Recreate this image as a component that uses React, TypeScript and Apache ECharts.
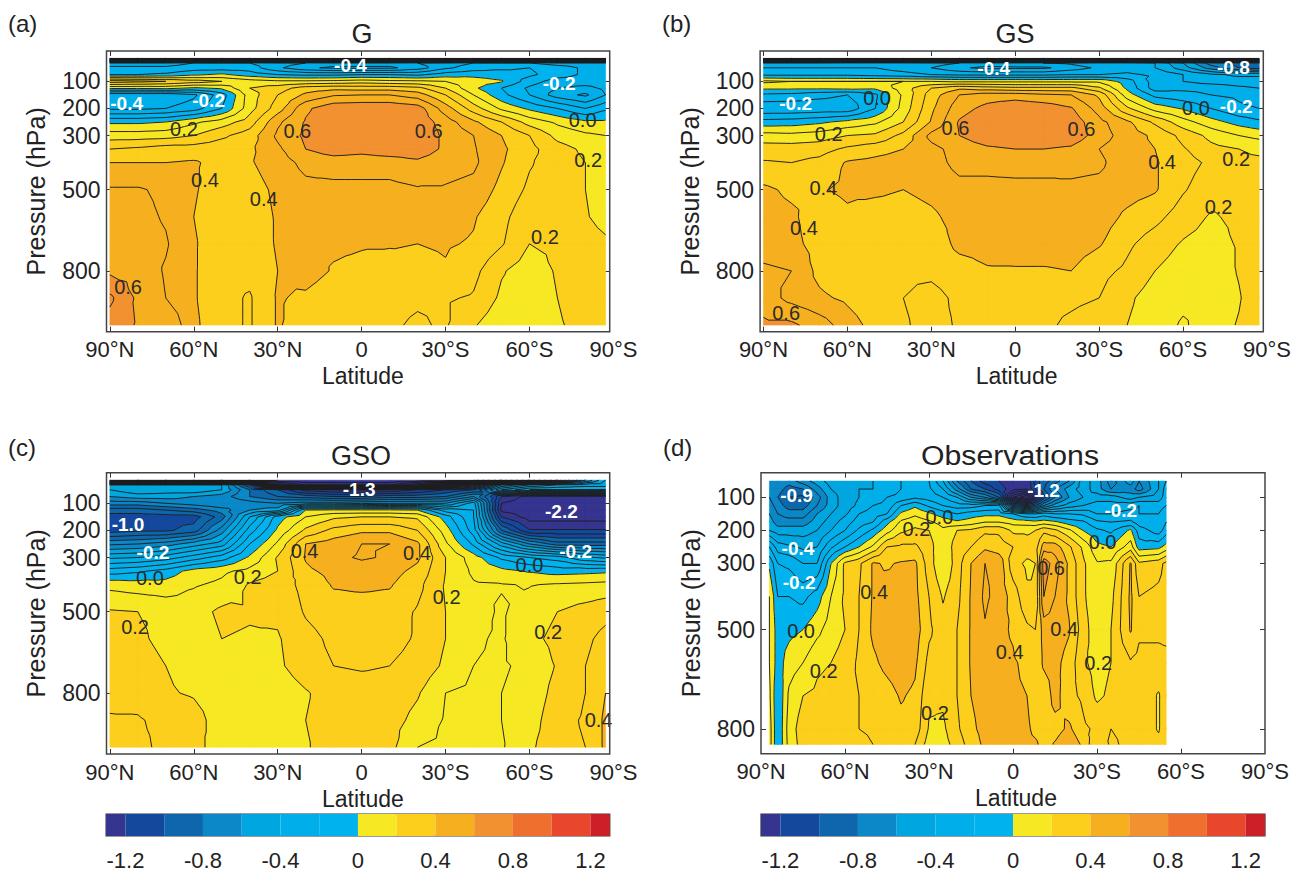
import React, { useEffect, useRef } from "react";
import * as echarts from "echarts";

const FONT = "'Liberation Sans', Arial, sans-serif";
const INK = "#222222";

const X_TICKS = [90, 60, 30, 0, -30, -60, -90];
const X_TICK_LABELS = ["90°N", "60°N", "30°N", "0", "30°S", "60°S", "90°S"];
const Y_TICKS = [100, 200, 300, 500, 800];
const CBAR_TICKS = [-1.2, -0.8, -0.4, 0, 0.4, 0.8, 1.2];

const BAND_EDGES = [-99, -1.2, -1, -0.8, -0.6, -0.4, -0.2, 0, 0.2, 0.4, 0.6, 0.8, 1, 1.2, 99];
const CBAR_EDGES = [-1.3, -1.2, -1, -0.8, -0.6, -0.4, -0.2, 0, 0.2, 0.4, 0.6, 0.8, 1, 1.2, 1.3];
const BAND_COLORS = ["#35348f", "#14489c", "#0e67ac", "#0a88c8", "#00a6df", "#00aeea", "#00b3ee", "#f7e824", "#fccf1d", "#f6b01f", "#f29130", "#ef6f2e", "#e8472b", "#cb2027"];
const LINE_LEVELS = [-3, -2.9, -2.8, -2.7, -2.6, -2.5, -2.4, -2.3, -2.2, -2.1, -2, -1.9, -1.8, -1.7, -1.6, -1.5, -1.4, -1.3, -1.2, -1.1, -1, -0.9, -0.8, -0.7, -0.6, -0.5, -0.4, -0.3, -0.2, -0.1, 0, 0.1, 0.2, 0.3, 0.4, 0.5, 0.6, 0.7, 0.8, 0.9];

const LATS = [90, 80, 70, 60, 50, 40, 30, 20, 10, 0, -10, -20, -30, -40, -50, -60, -70, -80, -87.2];
const LEVELS = [15, 32, 50, 75, 100, 125, 150, 200, 250, 300, 350, 400, 500, 600, 700, 800, 900, 1000];

const G_VALUES = [
  [-3, -3, -3, -3, -3, -3, -3, -3, -3, -3, -3, -3, -3, -3, -3, -3, -3, -3, -3],
  [-.25, -.25, -.25, -.2, -.2, -.2, -.25, -.3, -.35, -.35, -.35, -.3, -.25, -.2, -.2, -.2, -.25, -.25, -.25],
  [-.18, -.18, -.18, -.15, -.15, -.15, -.28, -.38, -.42, -.42, -.42, -.35, -.22, -.15, -.12, -.1, -.15, -.22, -.25],
  [-.1, -.1, -.08, -.02, .02, -.05, -.1, -.12, -.12, -.1, -.1, -.12, -.05, -.03, -.05, -.08, -.15, -.22, -.22],
  [.35, .33, .3, .25, .2, .15, .12, .12, .13, .15, .13, .12, .1, .05, .01, -.15, -.25, -.25, -.25],
  [.02, .02, .03, -.02, .02, .2, .25, .35, .37, .36, .36, .33, .2, .02, -.1, -.22, -.3, -.33, -.28],
  [-.38, -.38, -.38, -.32, -.15, .15, .3, .42, .49, .5, .5, .45, .3, .1, -.07, -.2, -.35, -.42, -.3],
  [-.32, -.32, -.3, -.25, -.1, .16, .35, .58, .67, .68, .68, .65, .45, .25, .08, -.02, -.1, -.2, -.12],
  [-.02, -.02, 0, .08, .15, .25, .48, .61, .68, .68, .68, .67, .55, .42, .3, .16, .08, .02, .02],
  [.15, .15, .16, .2, .28, .35, .52, .62, .68, .68, .68, .67, .58, .5, .4, .3, .17, .12, .1],
  [.3, .32, .35, .35, .36, .38, .48, .6, .65, .63, .66, .66, .58, .51, .42, .33, .24, .18, .13],
  [.4, .4, .4, .41, .37, .39, .45, .53, .55, .55, .55, .58, .54, .52, .41, .31, .25, .2, .15],
  [.51, .51, .48, .41, .35, .36, .42, .47, .47, .47, .47, .49, .49, .47, .37, .28, .24, .2, .15],
  [.54, .53, .49, .4, .34, .35, .41, .44, .44, .44, .44, .44, .44, .41, .33, .23, .22, .21, .16],
  [.55, .54, .51, .41, .34, .34, .41, .42, .42, .41, .41, .4, .41, .39, .31, .2, .22, .25, .22],
  [.58, .56, .49, .41, .33, .33, .4, .45, .39, .37, .35, .37, .39, .33, .21, .15, .21, .24, .25],
  [.72, .58, .5, .41, .33, .29, .41, .38, .33, .32, .32, .31, .31, .29, .18, .14, .2, .29, .25],
  [.66, .59, .6, .42, .33, .29, .41, .35, .31, .31, .31, .29, .31, .21, .13, .13, .18, .26, .27],
];

const GS_VALUES = [
  [-3, -3, -3, -3, -3, -3, -3, -3, -3, -3, -3, -3, -3, -3, -3, -3, -3, -3, -3],
  [-.25, -.25, -.25, -.22, -.22, -.22, -.25, -.3, -.32, -.32, -.3, -.28, -.22, -.22, -.3, -.5, -.75, -.85, -.85],
  [-.2, -.2, -.2, -.2, -.2, -.25, -.3, -.38, -.43, -.42, -.42, -.35, -.28, -.25, -.3, -.45, -.65, -.8, -.85],
  [-.12, -.12, -.12, -.12, -.14, -.16, -.2, -.22, -.22, -.22, -.22, -.2, -.2, -.18, -.22, -.3, -.38, -.42, -.42],
  [.12, .1, .1, .1, .1, .1, .1, .08, .08, .08, .08, .08, .08, -.05, -.25, -.3, -.35, -.35, -.35],
  [.02, .02, .02, .03, .02, .15, .3, .38, .35, .33, .33, .33, .22, -.02, -.25, -.22, -.22, -.28, -.3],
  [-.12, -.13, -.17, -.2, -.12, .12, .35, .5, .55, .55, .52, .5, .38, .05, -.13, -.17, -.2, -.22, -.25],
  [-.28, -.28, -.27, -.27, -.1, .14, .38, .56, .63, .68, .66, .61, .46, .22, .06, -.01, -.1, -.18, -.2],
  [-.06, -.05, -.02, .03, .08, .2, .41, .61, .68, .69, .68, .66, .53, .42, .28, .14, .04, -.04, -.08],
  [.14, .13, .15, .2, .22, .33, .53, .6, .67, .68, .68, .67, .55, .45, .38, .27, .17, .1, .07],
  [.25, .25, .26, .32, .36, .4, .47, .54, .58, .6, .6, .58, .5, .44, .4, .31, .23, .2, .18],
  [.31, .3, .33, .41, .43, .45, .46, .53, .53, .54, .54, .53, .52, .44, .41, .34, .28, .22, .22],
  [.42, .38, .39, .42, .42, .4, .43, .47, .47, .47, .47, .48, .47, .44, .41, .31, .24, .23, .28],
  [.44, .42, .34, .38, .35, .35, .38, .44, .45, .45, .45, .45, .45, .38, .33, .25, .19, .22, .25],
  [.45, .43, .36, .33, .33, .33, .33, .43, .44, .45, .45, .45, .41, .32, .25, .19, .16, .21, .3],
  [.52, .5, .37, .32, .3, .31, .32, .35, .39, .39, .39, .4, .33, .28, .2, .15, .12, .21, .29],
  [.55, .47, .42, .38, .32, .3, .27, .32, .33, .33, .33, .32, .3, .22, .15, .12, .12, .19, .28],
  [.62, .62, .55, .45, .36, .31, .27, .31, .32, .32, .32, .28, .25, .2, .14, .09, .14, .21, .3],
];

const GSO_VALUES = [
  [-3, -3, -3, -3, -3, -3, -3, -3, -3, -3, -3, -3, -3, -3, -2.5, -2, -1.5, -.8, -.5],
  [-.5, -.5, -.5, -.5, -.5, -1, -2.6, -2.8, -2.8, -2.8, -2.8, -2.6, -2, -1.5, -.8, -.6, -.5, -.45, -.45],
  [-.5, -.42, -.45, -.42, -.5, -.8, -1, -1.25, -1.3, -1.32, -1.3, -1.2, -1.1, -1, -.5, -.3, -.3, -.3, -.3],
  [-.6, -.55, -.55, -.6, -.65, -.8, -.9, -.95, -1, -1, -.95, -.95, -.9, -.7, -1.2, -1.35, -1.35, -1.35, -1.35],
  [-.75, -.75, -.7, -.65, -.6, -.65, -.7, -.65, -.65, -.62, -.6, -.6, -.6, -.35, -1.3, -1.35, -1.35, -1.35, -1.35],
  [-.95, -.95, -.9, -.85, -.75, -.6, -.55, 0, .02, .02, .02, 0, -.25, -.3, -1.33, -1.35, -1.35, -1.35, -1.35],
  [-1.05, -1.05, -1.05, -1.05, -.85, -.4, -.05, .1, .18, .2, .2, .18, -.05, -.3, -1.2, -1.35, -1.35, -1.35, -1.35],
  [-1.05, -1.02, -1.02, -.95, -.65, -.25, .02, .22, .33, .38, .38, .3, .05, -.25, -.9, -1.19, -1.19, -1.19, -1.19],
  [-.72, -.7, -.65, -.55, -.45, -.1, .12, .4, .45, .5, .5, .42, .12, -.12, -.45, -.7, -.85, -.85, -.85],
  [-.42, -.4, -.35, -.25, -.15, .02, .21, .41, .48, .51, .49, .42, .2, .05, -.12, -.2, -.25, -.38, -.42],
  [-.15, -.12, -.06, .04, .08, .13, .2, .38, .43, .46, .44, .37, .2, .08, .03, -.01, -.04, -.03, -.02],
  [.07, .05, .04, .09, .12, .21, .25, .33, .41, .42, .41, .33, .19, .11, .105, .095, .11, .12, .13],
  [.21, .2, .17, .16, .22, .21, .22, .31, .35, .35, .35, .29, .2, .13, .09, .14, .2, .24, .27],
  [.27, .22, .17, .14, .2, .19, .19, .27, .32, .33, .33, .29, .2, .11, .09, .17, .23, .28, .33],
  [.27, .25, .2, .17, .14, .14, .18, .26, .3, .31, .3, .27, .18, .1, .09, .12, .21, .3, .35],
  [.27, .26, .21, .19, .14, .13, .13, .19, .25, .26, .26, .21, .1, .08, .1, .13, .24, .3, .4],
  [.31, .31, .27, .24, .15, .12, .12, .2, .24, .26, .24, .17, .09, .08, .1, .15, .27, .31, .42],
  [.34, .33, .27, .22, .17, .12, .13, .19, .25, .26, .23, .1, .08, .07, .09, .18, .27, .3, .42],
];

const OBS_LATS = [87, 84, 80, 75, 70, 65, 60, 55, 50, 45, 40, 35, 30, 25, 20, 15, 10, 5, 0, -5, -8, -11, -15, -20, -25, -30, -35, -42, -45, -52, -54.7];
const OBS_LEVELS = [51, 75, 100, 125, 150, 175, 200, 250, 300, 400, 500, 600, 700, 800, 847];
// one list per latitude, top of the atmosphere first
const OBS_BY_LAT = [
  [-.75, -.75, -.7, -.65, -.6, -.55, -.5, -.2, -.02, .1, .1, .1, .12, .15, .15],
  [-.7, -.75, -.8, -.75, -.7, -.65, -.55, -.35, -.2, -.1, -.05, -.05, -.1, -.1, -.1],
  [-.75, -.85, -.9, -.85, -.75, -.65, -.55, -.38, -.22, -.1, -.03, .05, .12, .15, .14],
  [-.65, -.8, -.92, -.85, -.75, -.65, -.55, -.42, -.3, -.13, 0, .1, .2, .25, .24],
  [-.55, -.65, -.75, -.7, -.6, -.55, -.5, -.4, -.3, -.05, .07, .18, .22, .3, .28],
  [-.45, -.5, -.55, -.55, -.5, -.45, -.4, -.22, 0, .1, .15, .2, .24, .28, .25],
  [-.42, -.45, -.45, -.45, -.42, -.35, -.3, -.1, .22, .22, .2, .24, .27, .28, .27],
  [-.45, -.4, -.4, -.38, -.3, -.25, -.18, 0, .28, .3, .3, .32, .3, .3, .28],
  [-.4, -.4, -.35, -.3, -.25, -.2, -.08, .12, .41, .41, .42, .38, .33, .31, .3],
  [-.35, -.35, -.3, -.28, -.2, -.03, .06, .3, .39, .44, .46, .43, .36, .33, .31],
  [-.3, -.3, -.28, -.1, .02, .12, .18, .32, .41, .43, .46, .46, .41, .37, .32],
  [-.25, -.25, -.22, -.02, .08, .16, .22, .32, .42, .43, .45, .42, .38, .36, .3],
  [-.3, -.28, -.25, -.12, .02, .12, .2, .24, .25, .3, .32, .27, .22, .19, .15],
  [-.5, -.4, -.3, -.2, -.05, .06, .12, .12, .1, .19, .24, .25, .22, .18, .16],
  [-.8, -.65, -.4, -.25, -.1, .02, .2, .25, .25, .27, .3, .3, .3, .28, .24],
  [-1, -.9, -.6, -.25, -.05, .05, .22, .3, .4, .41, .41, .41, .4, .38, .35],
  [-1.15, -1, -.7, -.2, -.03, .1, .28, .38, .5, .52, .49, .45, .44, .43, .42],
  [-1.2, -1.15, -.9, -.18, -.03, .1, .28, .35, .47, .46, .42, .42, .42, .42, .44],
  [-1.3, -1.25, -1.6, -.9, -.1, .06, .18, .3, .24, .36, .39, .41, .41, .42, .42],
  [-1.3, -1.3, -1.8, -1, -.2, .05, .18, .25, .18, .22, .32, .38, .4, .42, .42],
  [-1.05, -1.1, -1.4, -.9, -.2, .03, .2, .25, .2, .2, .3, .32, .34, .37, .42],
  [-.95, -.9, -1.05, -.7, -.15, .05, .27, .45, .66, .6, .44, .42, .33, .35, .36],
  [-.85, -.7, -.8, -.55, -.2, .02, .22, .45, .55, .5, .46, .43, .44, .36, .41],
  [-.7, -.55, -.6, -.45, -.2, -.05, .12, .32, .38, .38, .41, .36, .33, .42, .48],
  [-.45, -.45, -.5, -.4, -.22, -.08, 0, .18, .22, .22, .25, .22, .28, .32, .38],
  [-.55, -.55, -.45, -.35, -.3, -.18, -.08, .03, .11, .12, .13, .16, .18, .28, .2],
  [-.75, -.7, -.45, -.35, -.3, -.2, -.12, 0, .12, .17, .2, .2, .22, .3, .32],
  [-.55, -.65, -.55, -.33, -.27, -.18, .02, .15, .41, .42, .41, .29, .26, .27, .27],
  [-.7, -.75, -.5, -.3, -.3, -.25, -.15, -.05, .22, .3, .32, .27, .28, .28, .28],
  [-.5, -.5, -.45, -.35, -.3, -.3, -.25, -.03, .26, .33, .32, .27, .19, .19, .23],
  [-.4, -.35, -.35, -.3, -.22, -.2, -.15, .04, .33, .35, .33, .27, .26, .27, .27],
];
const OBS_VALUES = OBS_LEVELS.map((_, r) => OBS_BY_LAT.map((col) => col[r]));

const LABELS_G: [number, number, string][] = [[63.5, 277, "0.2"], [23, 283, "0.6"], [-24, 283, "0.6"], [56, 464, "0.4"], [35, 534, "0.4"], [-81, 390, "0.2"], [-79, 243, "0.0"], [-65.5, 674, "0.2"], [83.5, 858, "0.6"]];
const WHITE_G: [number, number, string][] = [[4, 42, "-0.4"], [84, 183, "-0.4"], [54.7, 172, "-0.2"], [-70.6, 107, "-0.2"]];
const LABELS_GS: [number, number, string][] = [[49.4, 163, "0.0"], [66.7, 296, "0.2"], [21.4, 273, "0.6"], [-23.7, 277, "0.6"], [-52.5, 397, "0.4"], [-79, 387, "0.2"], [-64.6, 200, "0.0"], [68.6, 495, "0.4"], [75.5, 643, "0.4"], [-72.7, 563, "0.2"], [81.9, 954, "0.6"]];
const WHITE_GS: [number, number, string][] = [[7.7, 52, "-0.4"], [-78, 49, "-0.8"], [78.5, 181, "-0.2"], [-79, 193, "-0.2"]];
const LABELS_GSO: [number, number, string][] = [[75.7, 377, "0.0"], [40.7, 373, "0.2"], [20.4, 275, "0.4"], [-19.8, 285, "0.4"], [-30.4, 447, "0.2"], [-60, 328, "0.0"], [81, 555, "0.2"], [-66.7, 576, "0.2"], [-84.7, 899, "0.4"]];
const WHITE_GSO: [number, number, string][] = [[0.9, 48, "-1.3"], [83.5, 180, "-1.0"], [-71.4, 131, "-2.2"], [74.6, 281, "-0.2"], [-76.5, 278, "-0.2"]];
const LABELS_OBS: [number, number, string][] = [[34.5, 196, "0.2"], [26.3, 158, "0.0"], [-32, 236, "0.0"], [49.6, 385, "0.4"], [-13.6, 314, "0.6"], [75.7, 503, "0.0"], [-18.3, 499, "0.4"], [1.2, 568, "0.4"], [-30.4, 602, "0.2"], [67.6, 625, "0.2"], [27.9, 752, "0.2"]];
const WHITE_OBS: [number, number, string][] = [[77.3, 96, "-0.9"], [-10.9, 78, "-1.2"], [-38.5, 141, "-0.2"], [76.8, 256, "-0.4"], [76.4, 357, "-0.2"]];

// box: plot area including the overhang to 90S; frameW: drawn frame width
const PANELS = [
  { title: "G", letter: "(a)", lats: LATS, levels: LEVELS, z: G_VALUES, dark: LABELS_G, white: WHITE_G, box: [106.5, 51, 506.9, 280.7], frameW: 503.2, xr: [-90, 91.2], yr: [-12.2, 1024.5], tx: 362, ty: 34, lx: 8, ly: 23, sx: 1, xt: [90, 60, 30, 0, -30, -60] },
  { title: "GS", letter: "(b)", lats: LATS, levels: LEVELS, z: GS_VALUES, dark: LABELS_GS, white: WHITE_GS, box: [760.1, 51, 506.9, 280.7], frameW: 503.2, xr: [-90, 91.2], yr: [-12.2, 1024.5], tx: 1015, ty: 34, lx: 662, ly: 23, sx: 1, xt: [90, 60, 30, 0, -30, -60] },
  { title: "GSO", letter: "(c)", lats: LATS, levels: LEVELS, z: GSO_VALUES, dark: LABELS_GSO, white: WHITE_GSO, box: [106.5, 472.7, 506.9, 281.3], frameW: 503.2, xr: [-90, 91.2], yr: [-12.9, 1025], tx: 361, ty: 456, lx: 8, ly: 447, sx: 1, xt: [90, 60, 30, 0, -30, -60] },
  { title: "Observations", letter: "(d)", lats: OBS_LATS, levels: OBS_LEVELS, z: OBS_VALUES, dark: LABELS_OBS, white: WHITE_OBS, box: [761, 472.7, 504, 281], frameW: 504, xr: [-90, 90], yr: [25.6, 875], tx: 1010, ty: 456, lx: 663, ly: 447, sx: 1.12, xt: [60, 30, 0, -30, -60] },
];
const CBARS = [[106.1, 814, 503.7, 23.3], [761, 814, 504, 23.3]];

type V = [number, number, number];
function clipAt(poly: V[], level: number, keepAbove: boolean): V[] {
  const out: V[] = [];
  for (let i = 0; i < poly.length; i++) {
    const a = poly[i], b = poly[(i + 1) % poly.length];
    const ai = keepAbove ? a[2] >= level : a[2] <= level;
    const bi = keepAbove ? b[2] >= level : b[2] <= level;
    if (ai) out.push(a);
    if (ai !== bi) {
      const t = (level - a[2]) / (b[2] - a[2]);
      out.push([a[0] + t * (b[0] - a[0]), a[1] + t * (b[1] - a[1]), level]);
    }
  }
  return out;
}

function contour(lats: number[], levels: number[], z: number[][]) {
  const fills: number[][][][] = BAND_COLORS.map(() => []);
  const segs: number[][][] = [];
  for (let r = 0; r < levels.length - 1; r++) {
    for (let c = 0; c < lats.length - 1; c++) {
      const A: V = [lats[c], levels[r], z[r][c]];
      const B: V = [lats[c + 1], levels[r], z[r][c + 1]];
      const C: V = [lats[c + 1], levels[r + 1], z[r + 1][c + 1]];
      const D: V = [lats[c], levels[r + 1], z[r + 1][c]];
      const M: V = [(A[0] + B[0]) / 2, (A[1] + D[1]) / 2, (A[2] + B[2] + C[2] + D[2]) / 4];
      const lo = Math.min(A[2], B[2], C[2], D[2]);
      const hi = Math.max(A[2], B[2], C[2], D[2]);
      let whole = false;
      BAND_COLORS.forEach((_, k) => {
        if (!whole && lo >= BAND_EDGES[k] && hi <= BAND_EDGES[k + 1]) {
          fills[k].push([A, B, C, D]);
          whole = true;
        }
      });
      const tris: V[][] = [[A, B, M], [B, C, M], [C, D, M], [D, A, M]];
      for (const tri of tris) {
        if (!whole) {
          BAND_COLORS.forEach((_, k) => {
            if (hi < BAND_EDGES[k] || lo > BAND_EDGES[k + 1]) return;
            let p = clipAt(tri, BAND_EDGES[k], true);
            if (p.length) p = clipAt(p, BAND_EDGES[k + 1], false);
            if (p.length > 2) fills[k].push(p);
          });
        }
        for (const l of LINE_LEVELS) {
          if (l < lo || l > hi) continue;
          const pts: number[][] = [];
          for (let i = 0; i < 3; i++) {
            const a = tri[i], b = tri[(i + 1) % 3];
            if (a[2] < l !== b[2] < l) {
              const t = (l - a[2]) / (b[2] - a[2]);
              pts.push([a[0] + t * (b[0] - a[0]), a[1] + t * (b[1] - a[1])]);
            }
          }
          if (pts.length === 2) segs.push(pts);
        }
      }
    }
  }
  return { fills, segs };
}

const latLabel = (v: number) => X_TICK_LABELS[X_TICKS.indexOf(v)] ?? String(v);

function buildOption() {
  const grid: any[] = [], xAxis: any[] = [], yAxis: any[] = [], series: any[] = [], graphic: any[] = [];
  const lineStyle = { color: "#333", width: 1 };

  PANELS.forEach((p, i) => {
    grid.push({ left: p.box[0], top: p.box[1], width: p.box[2], height: p.box[3], show: false });
    const xBase = { gridIndex: i, type: "value", min: p.xr[0], max: p.xr[1], inverse: true, splitLine: { show: false }, axisLine: { show: false, onZero: false }, axisTick: { show: true, inside: true, length: 5, lineStyle, customValues: p.xt } };
    xAxis.push({ ...xBase, position: "bottom", name: "Latitude", nameLocation: "middle", nameGap: 33, nameTextStyle: { fontSize: 23, fontFamily: FONT, color: INK, padding: [0, 0, 0, 6] }, axisLabel: { customValues: X_TICKS, formatter: latLabel, fontSize: 22, fontFamily: FONT, color: INK, margin: 7 } });
    xAxis.push({ ...xBase, position: "top", axisLabel: { show: false } });
    const yBase = { gridIndex: i, type: "value", min: p.yr[0], max: p.yr[1], inverse: true, splitLine: { show: false }, axisLine: { show: false, onZero: false }, axisTick: { show: true, inside: true, length: 5, lineStyle, customValues: Y_TICKS } };
    yAxis.push({ ...yBase, position: "left", name: "Pressure (hPa)", nameLocation: "middle", nameGap: 58, nameRotate: 90, nameTextStyle: { fontSize: 25, fontFamily: FONT, color: INK }, axisLabel: { customValues: Y_TICKS, formatter: (v: number) => String(v), fontSize: 23, fontFamily: FONT, color: INK, margin: 6 } });
    yAxis.push({ ...yBase, position: "right", offset: p.frameW - p.box[2], axisLabel: { show: false } });

    const axes = { xAxisIndex: i * 2, yAxisIndex: i * 2 };
    const { fills, segs } = contour(p.lats, p.levels, p.z);
    const toPath = (api: any, polys: number[][][], close: boolean) =>
      polys.map((poly) => "M" + poly.map((q) => { const c = api.coord([q[0], q[1]]); return c[0].toFixed(2) + " " + c[1].toFixed(2); }).join("L") + (close ? "Z" : "")).join("");
    series.push({
      type: "custom", ...axes, silent: true, z: 2,
      data: BAND_COLORS.map((color, k) => [0, 500, k]),
      renderItem: (params: any, api: any) => {
        const k = params.dataIndex;
        if (!fills[k].length) return null;
        return { type: "path", shape: { pathData: toPath(api, fills[k], true) }, style: { fill: BAND_COLORS[k], stroke: BAND_COLORS[k], lineWidth: 0.6 } };
      },
    });
    series.push({
      type: "custom", ...axes, silent: true, z: 3,
      data: [[0, 500]],
      renderItem: (_: any, api: any) => ({ type: "path", shape: { pathData: toPath(api, segs, false) }, style: { fill: "none", stroke: "#1d1d1d", lineWidth: 0.95 } }),
    });
    const textSeries = (list: [number, number, string][], fill: string, weight: string, size: number) => ({
      type: "custom", ...axes, silent: true, z: 4,
      data: list,
      renderItem: (params: any, api: any) => {
        const it = list[params.dataIndex];
        const c = api.coord([it[0], it[1]]);
        return { type: "text", style: { text: it[2], x: c[0], y: c[1], fill, fontSize: size, fontWeight: weight, fontFamily: FONT, align: "center", verticalAlign: "middle" } };
      },
    });
    series.push(textSeries(p.dark, "#2a2a2a", "normal", 20));
    series.push(textSeries(p.white, "#ffffff", "bold", 19));

    graphic.push({ type: "rect", z: 5, shape: { x: p.box[0], y: p.box[1], width: p.frameW, height: p.box[3] }, style: { fill: "none", stroke: "#444", lineWidth: 1.5 } });
    graphic.push({ type: "text", x: p.tx, y: p.ty, scaleX: p.sx, z: 10, style: { text: p.title, fontSize: 27, fontFamily: FONT, fill: INK, align: "center", verticalAlign: "middle" } });
    graphic.push({ type: "text", x: p.lx, y: p.ly, z: 10, style: { text: p.letter, fontSize: 24, fontFamily: FONT, fill: INK, align: "left", verticalAlign: "middle" } });
  });

  CBARS.forEach((b, j) => {
    const g = PANELS.length + j;
    grid.push({ left: b[0], top: b[1], width: b[2], height: b[3], show: true, borderColor: "#333", borderWidth: 1.2 });
    xAxis.push({ gridIndex: g, type: "value", min: -1.3, max: 1.3, position: "bottom", splitLine: { show: false }, axisLine: { show: false, onZero: false }, axisTick: { show: false }, axisLabel: { customValues: CBAR_TICKS, formatter: (v: number) => (v === 0 ? "0" : String(v)), fontSize: 22, fontFamily: FONT, color: INK, margin: 13 } });
    yAxis.push({ gridIndex: g, type: "value", min: 0, max: 1, show: false });
    series.push({
      type: "custom", xAxisIndex: PANELS.length * 2 + j, yAxisIndex: PANELS.length * 2 + j, silent: true, z: 2,
      data: BAND_COLORS.map((_, k) => [CBAR_EDGES[k], CBAR_EDGES[k + 1]]),
      renderItem: (params: any, api: any) => {
        const a = api.coord([api.value(0), 1]);
        const c = api.coord([api.value(1), 0]);
        return { type: "rect", shape: { x: a[0], y: a[1], width: c[0] - a[0], height: c[1] - a[1] }, style: { fill: BAND_COLORS[params.dataIndex] } };
      },
    });
  });

  return { animation: false, backgroundColor: "#fff", grid, xAxis, yAxis, series, graphic };
}

export default function App() {
  const ref = useRef<HTMLDivElement>(null);
  useEffect(() => {
    const chart = echarts.init(ref.current!, null, { renderer: "svg" });
    chart.setOption(buildOption() as any);
    return () => chart.dispose();
  }, []);
  return <div ref={ref} style={{ position: "fixed", left: 0, top: 0, width: 1294, height: 871 }} />;
}
